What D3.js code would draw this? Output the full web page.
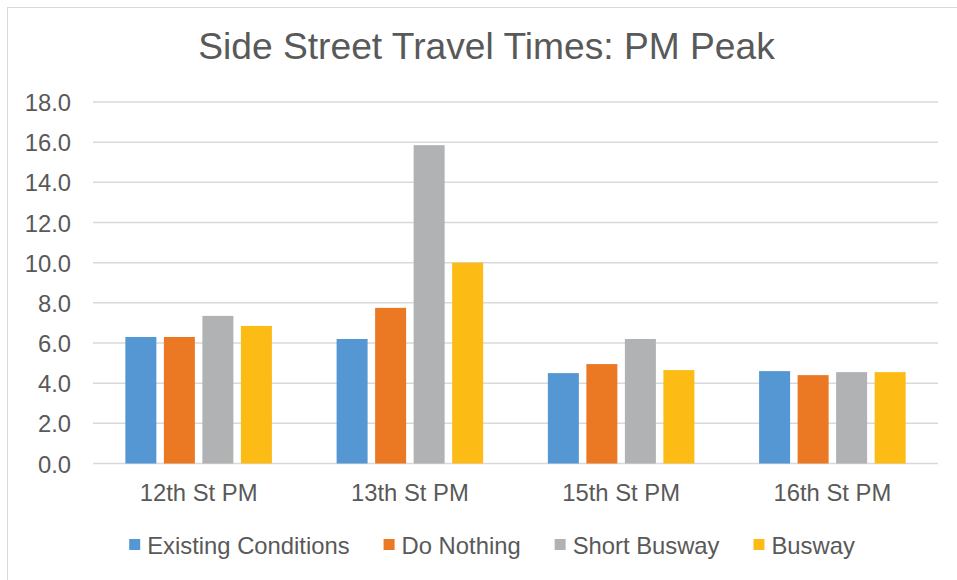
<!DOCTYPE html>
<html>
<head>
<meta charset="utf-8">
<script src="https://cdn.jsdelivr.net/npm/d3@7"></script>
<style>
  html, body { margin: 0; padding: 0; background: #fff; }
  svg { display: block; font-family: "Liberation Sans", Arial, sans-serif; }
</style>
</head>
<body>
<svg id="chart" width="957" height="580"></svg>
<script>
// Side street travel times (minutes), PM peak
const categories = ["12th St PM", "13th St PM", "15th St PM", "16th St PM"];
const seriesNames = ["Existing Conditions", "Do Nothing", "Short Busway", "Busway"];
const existingConditions = [6.3, 6.2, 4.5, 4.6];
const doNothing = [6.3, 7.75, 4.95, 4.4];
const shortBusway = [7.35, 15.85, 6.2, 4.55];
const busway = [6.85, 10.0, 4.65, 4.55];
const yTicks = [0, 2, 4, 6, 8, 10, 12, 14, 16, 18];

const seriesValues = [existingConditions, doNothing, shortBusway, busway];
const colors = ["#5497D3", "#EB7823", "#B1B2B4", "#FCBB15"];
const textColor = "#595959";
const labelSize = "23.8px";

const svg = d3.select("#chart");

// chart frame
svg.append("rect")
  .attr("x", 7.5).attr("y", 7.5)
  .attr("width", 980).attr("height", 600)
  .attr("fill", "#fff")
  .attr("stroke", "#d9d9d9").attr("stroke-width", 1);

const plot = { left: 93, right: 938, top: 102, bottom: 463.5 };

const x0 = d3.scaleBand().domain(categories).range([plot.left, plot.right]);
const x1 = d3.scaleBand().domain(seriesNames)
  .range([0, x0.bandwidth()])
  .paddingInner(0.195).paddingOuter(0.84);
const y = d3.scaleLinear().domain([0, 18]).range([plot.bottom, plot.top]);

// title
svg.append("text")
  .attr("x", 486.5).attr("y", 59)
  .attr("text-anchor", "middle")
  .attr("fill", textColor)
  .style("font-size", "37.2px")
  .text("Side Street Travel Times: PM Peak");

// gridlines
svg.append("g")
  .selectAll("line")
  .data(yTicks)
  .join("line")
  .attr("x1", plot.left).attr("x2", plot.right)
  .attr("y1", d => y(d)).attr("y2", d => y(d))
  .attr("stroke", "#d9d9d9").attr("stroke-width", 1.5);

// y axis labels
const yAxis = d3.axisLeft(y).tickValues(yTicks).tickFormat(d3.format(".1f")).tickSize(0).tickPadding(0);
const yG = svg.append("g").attr("transform", `translate(71,0)`).call(yAxis);
yG.select(".domain").remove();
yG.selectAll("text")
  .attr("fill", textColor)
  .attr("dy", "0.36em")
  .style("font-size", labelSize)
  .style("font-family", "'Liberation Sans', Arial, sans-serif");

// bars
const groups = svg.append("g")
  .selectAll("g")
  .data(categories)
  .join("g")
  .attr("transform", d => `translate(${x0(d)},0)`);

groups.selectAll("rect")
  .data((c, i) => seriesNames.map((s, j) => ({ s, j, v: seriesValues[j][i] })))
  .join("rect")
  .attr("x", d => x1(d.s))
  .attr("width", x1.bandwidth())
  .attr("y", d => y(d.v))
  .attr("height", d => y(0) - y(d.v))
  .attr("fill", d => colors[d.j]);

// category axis labels
const xAxis = d3.axisBottom(x0).tickSize(0).tickPadding(0);
const xG = svg.append("g").attr("transform", `translate(0,${plot.bottom})`).call(xAxis);
xG.select(".domain").remove();
xG.selectAll("text")
  .attr("fill", textColor)
  .attr("y", 37)
  .attr("dy", 0)
  .style("font-size", labelSize)
  .style("font-family", "'Liberation Sans', Arial, sans-serif");

// legend
const legend = svg.append("g");
let cursor = 0;
seriesNames.forEach((name, i) => {
  const item = legend.append("g").attr("transform", `translate(${cursor},0)`);
  item.append("rect")
    .attr("x", 0).attr("y", -6).attr("width", 11).attr("height", 11)
    .attr("fill", colors[i]);
  const t = item.append("text")
    .attr("x", 18).attr("y", 0).attr("dy", "0.36em")
    .attr("fill", textColor)
    .style("font-size", labelSize)
    .text(name);
  cursor += 18 + t.node().getComputedTextLength() + 34;
});
const legendWidth = cursor - 34;
legend.attr("transform", `translate(${492 - legendWidth / 2},545)`);
</script>
</body>
</html>
